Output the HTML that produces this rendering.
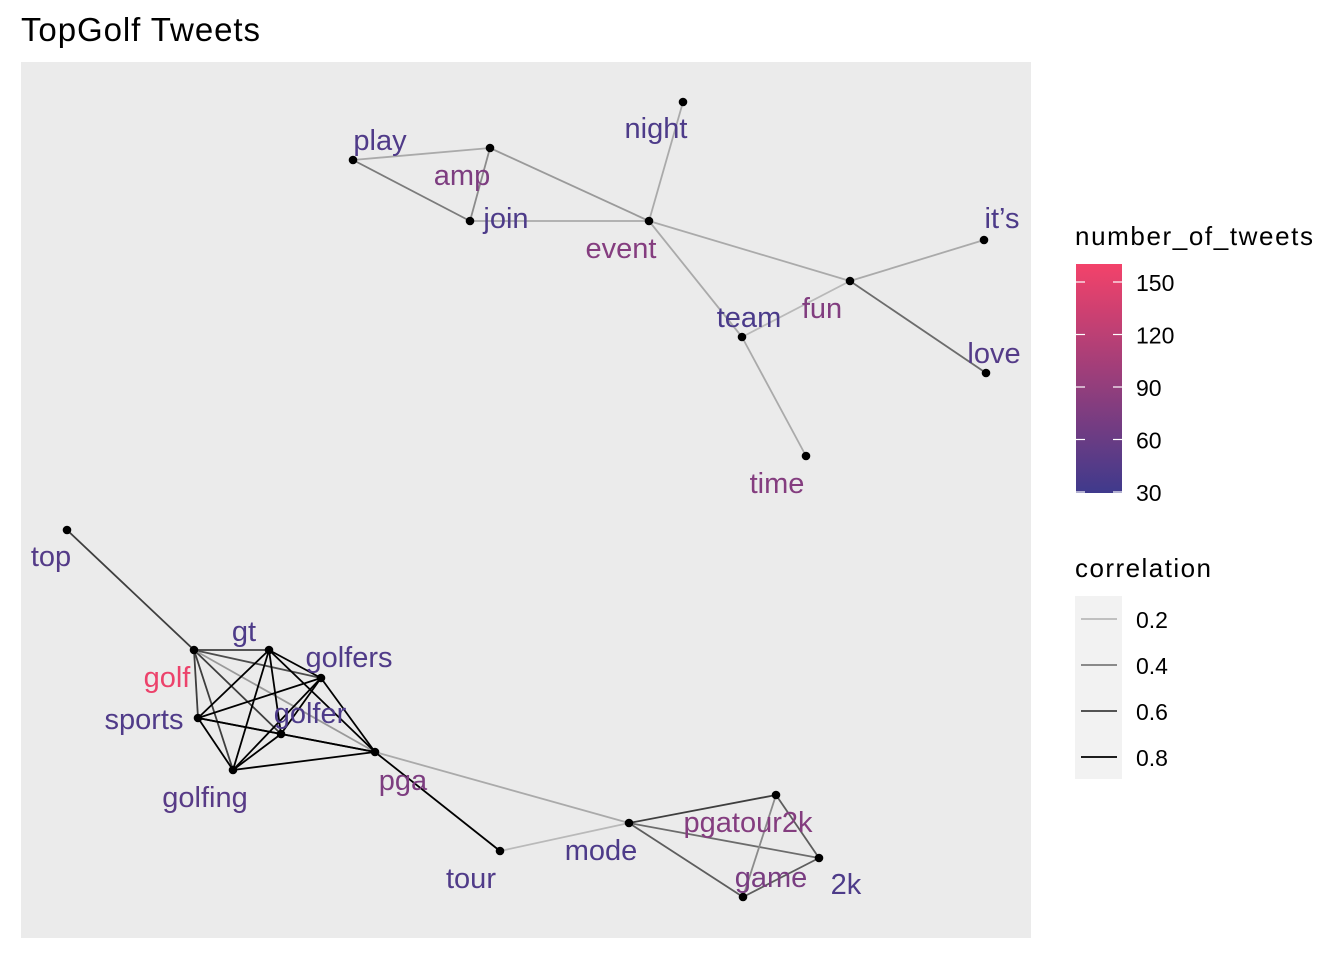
<!DOCTYPE html>
<html><head><meta charset="utf-8"><style>
body{margin:0;background:#fff;}
svg{display:block;font-family:"Liberation Sans",Arial,sans-serif;}
</style></head><body>
<svg id="chart" width="1344" height="960">
<defs><linearGradient id="cg" x1="0" y1="1" x2="0" y2="0">
<stop offset="0" stop-color="#3f3a8c"/><stop offset="1" stop-color="#f3426a"/></linearGradient></defs>
<text x="21" y="41" font-size="33" fill="#000" textLength="239">TopGolf Tweets</text>
<rect x="21" y="62" width="1010" height="876" fill="#ebebeb"/>
<g id="edges"></g>
<g id="nodes"></g>
<g id="labels"></g>
<g>
<text x="1075" y="245" font-size="26" textLength="238">number_of_tweets</text>
<rect x="1076" y="264" width="46" height="229" fill="url(#cg)"/>
<g id="cticks"></g>
</g>
<g>
<text x="1075" y="577" font-size="26" textLength="136">correlation</text>
<rect x="1075" y="596" width="47" height="183" fill="#f2f2f2"/>
<g id="lticks"></g>
</g>
</svg>
<script>
const words=["night","play","amp","join","event","fun","it’s","love","team","time","top","golf","gt","golfers","sports","golfer","golfing","pga","tour","mode","pgatour2k","2k","game"];
const nodeX=[683,353,490,470,649,850,984,986,742,806,67,194,269,321,198,281,233,375,500,629,776,819,743];
const nodeY=[102,160,148,221,221,281,240,373,337,456,530,650,650,678,718,734,770,752,851,823,795,858,897];
const tweets=[40,42,75,40,80,78,40,45,38,80,45,155,40,42,42,40,48,75,42,40,80,40,72];
const labelDX=[-27,27,-28,36,-28,-28,18,8,7,-29,-16,-27,-25,28,-54,29,-28,28,-29,-28,-28,27,28];
const labelDY=[26,-20,27,-3,27,27,-22,-20,-20,27,26,27,-19,-21,1,-21,27,28,27,27,27,26,-20];
const edgeFrom=["play","play","amp","amp","join","night","event","event","team","fun","fun","team","top","golf","golf","golf","golf","golf","golf","gt","gt","gt","gt","gt","golfers","golfers","golfers","golfers","sports","sports","sports","golfer","golfer","golfing","pga","pga","tour","mode","mode","mode","pgatour2k","pgatour2k","game"];
const edgeTo=["amp","join","join","event","event","event","fun","team","fun","it’s","love","time","golf","gt","golfers","sports","golfer","golfing","pga","sports","golfer","golfing","golfers","pga","sports","golfer","golfing","pga","golfer","golfing","pga","golfing","pga","pga","tour","mode","mode","pgatour2k","2k","game","2k","game","2k"];
const edgeCorr=[0.25,0.4,0.35,0.3,0.25,0.25,0.25,0.25,0.2,0.25,0.45,0.25,0.6,0.6,0.55,0.6,0.6,0.6,0.3,0.85,0.85,0.85,0.8,0.8,0.85,0.85,0.85,0.8,0.85,0.85,0.85,0.85,0.85,0.85,0.8,0.25,0.2,0.6,0.45,0.5,0.5,0.35,0.5];
const cTicks=[30,60,90,120,150];
const lTicks=[0.2,0.4,0.6,0.8];
const NS="http://www.w3.org/2000/svg";
function mk(t,a,p){const e=document.createElementNS(NS,t);for(const k in a)e.setAttribute(k,a[k]);p.appendChild(e);return e;}
function lerp(a,b,t){return Math.round(a+(b-a)*t);}
function tweetColor(v){const t=Math.max(0,Math.min(1,(v-30)/(160-30)));return `rgb(${lerp(63,243,t)},${lerp(58,66,t)},${lerp(140,106,t)})`;}
function corrColor(c){const t=Math.max(0,Math.min(1,(c-0.2)/0.6));const g=lerp(185,0,t);return `rgb(${g},${g},${g})`;}
function cy(v){return 492-(v-30)*1.75;}
const idx=w=>words.indexOf(w);
const E=document.getElementById('edges');
edgeFrom.forEach((f,i)=>{const a=idx(f),b=idx(edgeTo[i]);
 const l=mk('line',{x1:nodeX[a],y1:nodeY[a],x2:nodeX[b],y2:nodeY[b],stroke:corrColor(edgeCorr[i]),'stroke-width':1.8},E);
 
 });
const N=document.getElementById('nodes'),L=document.getElementById('labels');
words.forEach((w,i)=>{const c=mk('circle',{cx:nodeX[i],cy:nodeY[i],r:4.3,fill:'#000'},N);
 
 
 const t=mk('text',{x:nodeX[i]+labelDX[i],y:nodeY[i]+labelDY[i]+10,'font-size':29,'text-anchor':'middle',fill:tweetColor(tweets[i])},L);
 t.textContent=w;
 
 });
const CT=document.getElementById('cticks');
cTicks.forEach(v=>{const y=cy(v);
 mk('line',{x1:1076,y1:y,x2:1085,y2:y,stroke:'#fff','stroke-width':1.2},CT);
 mk('line',{x1:1113,y1:y,x2:1122,y2:y,stroke:'#fff','stroke-width':1.2},CT);
 const t=mk('text',{x:1136,y:y+9,'font-size':23},CT);t.textContent=v;
 
 });
const LT=document.getElementById('lticks');
lTicks.forEach((v,i)=>{const y=619+i*46;
 const l=mk('line',{x1:1081,y1:y,x2:1117,y2:y,stroke:corrColor(v),'stroke-width':1.8},LT);
 
 
 const t=mk('text',{x:1136,y:y+9,'font-size':23},LT);t.textContent=v.toFixed(1);
 
 });
</script>
</body></html>
